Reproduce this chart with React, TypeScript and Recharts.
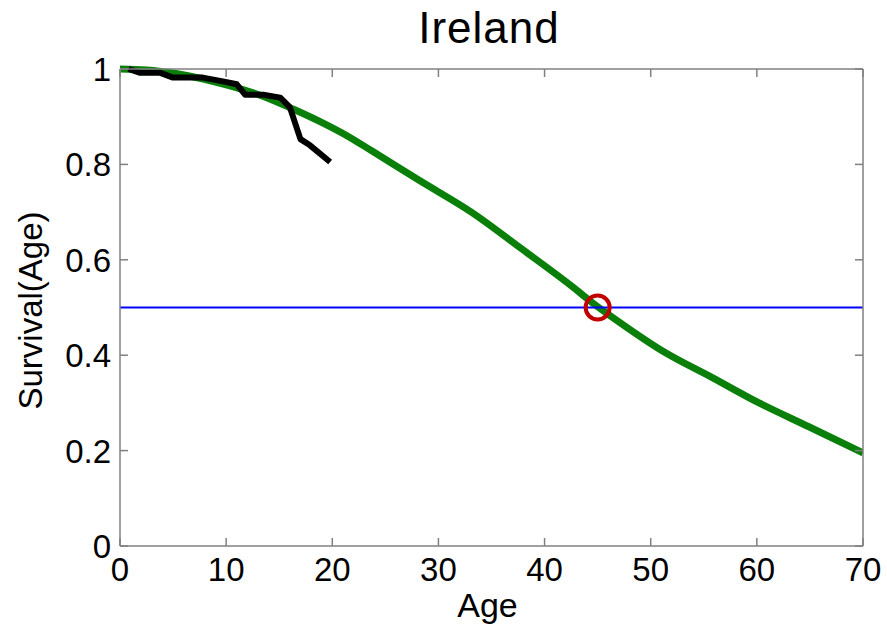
import { LineChart, Line, XAxis, YAxis, ReferenceLine, ReferenceDot } from 'recharts';

// model survival curve (green)
const modelAges = [0, 2.5, 5.4, 10.1, 13.2, 16.3, 18.9, 21.7, 23.6, 28.3, 33.1, 37.9, 42.6, 44.5, 46.3, 51.4, 55.8, 60.2, 64.9, 70];
const modelSurvival = [1.0, 0.998, 0.99, 0.966, 0.945, 0.916, 0.889, 0.856, 0.83, 0.765, 0.7, 0.622, 0.544, 0.51, 0.481, 0.405, 0.353, 0.3, 0.25, 0.195];

// observed survival (black)
const observedAges = [0.8, 1.9, 3.8, 5.0, 7.8, 9.7, 11.0, 11.8, 13.5, 15.1, 16.0, 17.0, 17.9, 19.8];
const observedSurvival = [1.0, 0.992, 0.992, 0.982, 0.982, 0.974, 0.968, 0.946, 0.946, 0.94, 0.92, 0.853, 0.84, 0.805];

const xTicks = [0, 10, 20, 30, 40, 50, 60, 70];
const yTicks = [0, 0.2, 0.4, 0.6, 0.8, 1];
const medianLevel = 0.5;
const medianAge = 45;

const modelData = modelAges.map((age, i) => ({ age, s: modelSurvival[i] }));
const observedData = observedAges.map((age, i) => ({ age, s: observedSurvival[i] }));

const FONT = '"Liberation Sans", Arial, sans-serif';
const AXIS = '#808080';

const BottomTick = ({ x, y, payload }: any) => (
  <g>
    <line x1={x} y1={y} x2={x} y2={y - 8} stroke={AXIS} strokeWidth={1.5} />
    <text x={x} y={y + 35} textAnchor="middle" fontSize={33} fontFamily={FONT} fill="#000">
      {payload.value}
    </text>
  </g>
);

const LeftTick = ({ x, y, payload }: any) => (
  <g>
    <line x1={x} y1={y} x2={x + 8} y2={y} stroke={AXIS} strokeWidth={1.5} />
    <text x={x - 9} y={y + 12} textAnchor="end" fontSize={33} fontFamily={FONT} fill="#000">
      {payload.value}
    </text>
  </g>
);

const TopTick = ({ x, y }: any) => <line x1={x} y1={y} x2={x} y2={y + 8} stroke={AXIS} strokeWidth={1.5} />;
const RightTick = ({ x, y }: any) => <line x1={x} y1={y} x2={x - 8} y2={y} stroke={AXIS} strokeWidth={1.5} />;

export default function App() {
  return (
    <div style={{ position: 'relative', width: 887, height: 624 }}>
      <style>{'body{margin:0}'}</style>
      <div
        style={{
          position: 'absolute',
          left: 0,
          width: 978,
          top: 6,
          textAlign: 'center',
          fontFamily: FONT,
          fontSize: 44,
          lineHeight: '44px',
          letterSpacing: 1,
          color: '#000',
        }}
      >
        Ireland
      </div>
      <LineChart width={887} height={624} margin={{ top: 69, right: 24, bottom: 0, left: 0 }}>
        <XAxis
          type="number"
          dataKey="age"
          domain={[0, 70]}
          ticks={xTicks}
          height={78}
          tickSize={0}
          tickMargin={0}
          tickLine={false}
          tick={BottomTick}
          axisLine={{ stroke: AXIS, strokeWidth: 1.5 }}
          allowDataOverflow
          label={{
            content: ({ viewBox }: any) => (
              <text x={viewBox.x + viewBox.width / 2 - 4} y={viewBox.y + 71} textAnchor="middle" fontSize={34} fontFamily={FONT} fill="#000">
                Age
              </text>
            ),
          }}
        />
        <XAxis
          xAxisId="top"
          orientation="top"
          type="number"
          dataKey="age"
          domain={[0, 70]}
          ticks={xTicks}
          height={1}
          mirror
          tickSize={0}
          tickMargin={0}
          tickLine={false}
          tick={TopTick}
          axisLine={{ stroke: AXIS, strokeWidth: 1.5 }}
          allowDataOverflow
        />
        <YAxis
          type="number"
          domain={[0, 1]}
          ticks={yTicks}
          width={120}
          tickSize={0}
          tickMargin={0}
          tickLine={false}
          tick={LeftTick}
          axisLine={{ stroke: AXIS, strokeWidth: 1.5 }}
          label={{
            content: ({ viewBox }: any) => {
              const cx = 42;
              const cy = viewBox.y + viewBox.height / 2 + 3;
              return (
                <text x={cx} y={cy} transform={`rotate(-90 ${cx} ${cy})`} textAnchor="middle" fontSize={33} fontFamily={FONT} fill="#000">
                  Survival(Age)
                </text>
              );
            },
          }}
        />
        <YAxis
          yAxisId="right"
          orientation="right"
          type="number"
          domain={[0, 1]}
          ticks={yTicks}
          width={1}
          mirror
          tickSize={0}
          tickMargin={0}
          tickLine={false}
          tick={RightTick}
          axisLine={{ stroke: AXIS, strokeWidth: 1.5 }}
          allowDataOverflow
        />
        {/* invisible copy bound to the mirrored box axes so their ticks get laid out */}
        <Line
          xAxisId="top"
          yAxisId="right"
          data={modelData}
          dataKey="s"
          stroke="none"
          dot={false}
          activeDot={false}
          isAnimationActive={false}
        />
        <Line
          data={modelData}
          dataKey="s"
          type="monotone"
          stroke="#0a800a"
          strokeWidth={7}
          dot={false}
          isAnimationActive={false}
        />
        <ReferenceLine y={medianLevel} stroke="#0000ff" strokeWidth={2} />
        <Line
          data={observedData}
          dataKey="s"
          type="linear"
          stroke="#000"
          strokeWidth={6}
          strokeLinejoin="round"
          dot={false}
          isAnimationActive={false}
        />
        <ReferenceDot x={medianAge} y={medianLevel} r={12} fill="none" stroke="#c00000" strokeWidth={4} />
      </LineChart>
    </div>
  );
}
